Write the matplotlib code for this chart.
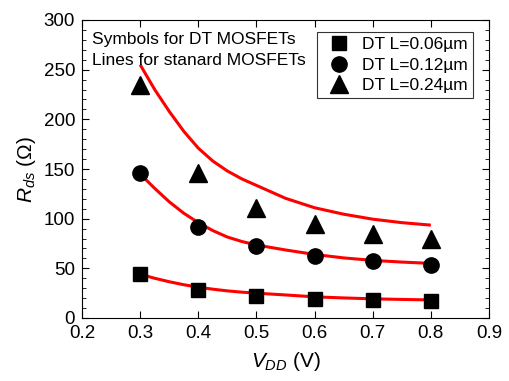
import matplotlib
matplotlib.use("Agg")
import matplotlib.pyplot as plt
from matplotlib.ticker import MultipleLocator

plt.rcParams['font.family'] = ['Liberation Sans', 'DejaVu Sans']
plt.rcParams['mathtext.fontset'] = 'custom'
plt.rcParams['mathtext.rm'] = 'Liberation Sans'
plt.rcParams['mathtext.it'] = 'Liberation Sans:italic'

# DT MOSFET symbols
vdd = [0.3, 0.4, 0.5, 0.6, 0.7, 0.8]
dt_006 = [44, 28, 22.5, 19.5, 18.5, 17.5]
dt_012 = [146, 92, 72, 62, 57, 53.5]
dt_024 = [235, 146, 111, 95, 85, 80]

# standard MOSFET lines
vdd_line = [0.3, 0.325, 0.35, 0.375, 0.4, 0.425, 0.45, 0.475, 0.5,
            0.55, 0.6, 0.65, 0.7, 0.75, 0.8]
std_006 = [44, 40, 36.5, 33.5, 31, 29, 27.3, 26, 25, 23.2, 21.3, 20.2, 19.3, 18.7, 18.2]
std_012 = [145, 130.5, 117, 105.5, 96, 88, 81.5, 77, 73.5, 68.5, 64, 60.5, 58, 56.3, 55]
std_024 = [255, 230, 208, 188, 171, 158, 148, 140, 133.5, 120.5, 111, 104.5, 99.5, 96, 93.5]

fig = plt.figure(figsize=(5.09, 3.81), dpi=100)
ax = fig.add_axes([82/509, 63/381, 407/509, 298/381])

for y in (std_006, std_012, std_024):
    ax.plot(vdd_line, y, color='red', lw=2.2, zorder=2, solid_capstyle='butt')

ax.plot(vdd, dt_006, 's', color='black', ms=10, ls='none', label='DT L=0.06µm', zorder=3)
ax.plot(vdd, dt_012, 'o', color='black', ms=11, ls='none', label='DT L=0.12µm', zorder=3)
ax.plot(vdd, dt_024, '^', color='black', ms=13, ls='none', label='DT L=0.24µm', zorder=3)

ax.set_xlim(0.2, 0.9)
ax.set_ylim(0, 300)
ax.set_xticks([0.2, 0.3, 0.4, 0.5, 0.6, 0.7, 0.8, 0.9])
ax.set_xticklabels(['0.2', '0.3', '0.4', '0.5', '0.6', '0.7', '0.8', '0.9'])
ax.yaxis.set_major_locator(MultipleLocator(50))
ax.yaxis.set_minor_locator(MultipleLocator(10))
ax.tick_params(which='both', direction='in', top=True, right=True, labelsize=13.5)
ax.tick_params(axis='x', pad=5)
ax.tick_params(axis='y', pad=5)
ax.tick_params(which='major', length=5)
ax.tick_params(which='minor', length=3)

ax.set_xlabel('$V_{DD}$ (V)', fontsize=15, labelpad=6)
ax.set_ylabel(r'$R_{ds}$ ($\Omega$)', fontsize=15, labelpad=4)

ax.text(0.025, 0.96, 'Symbols for DT MOSFETs\nLines for stanard MOSFETs',
        transform=ax.transAxes, fontsize=12.5, va='top', ha='left', linespacing=1.5)

leg = ax.legend(loc='upper right', fontsize=12.5, frameon=True, fancybox=False,
                edgecolor='black', handletextpad=0.3, borderpad=0.3,
                labelspacing=0.3, handlelength=2.0, borderaxespad=0,
                bbox_to_anchor=(0.96, 0.96))
leg.get_frame().set_linewidth(0.8)

fig.savefig('out.png', dpi=100)
